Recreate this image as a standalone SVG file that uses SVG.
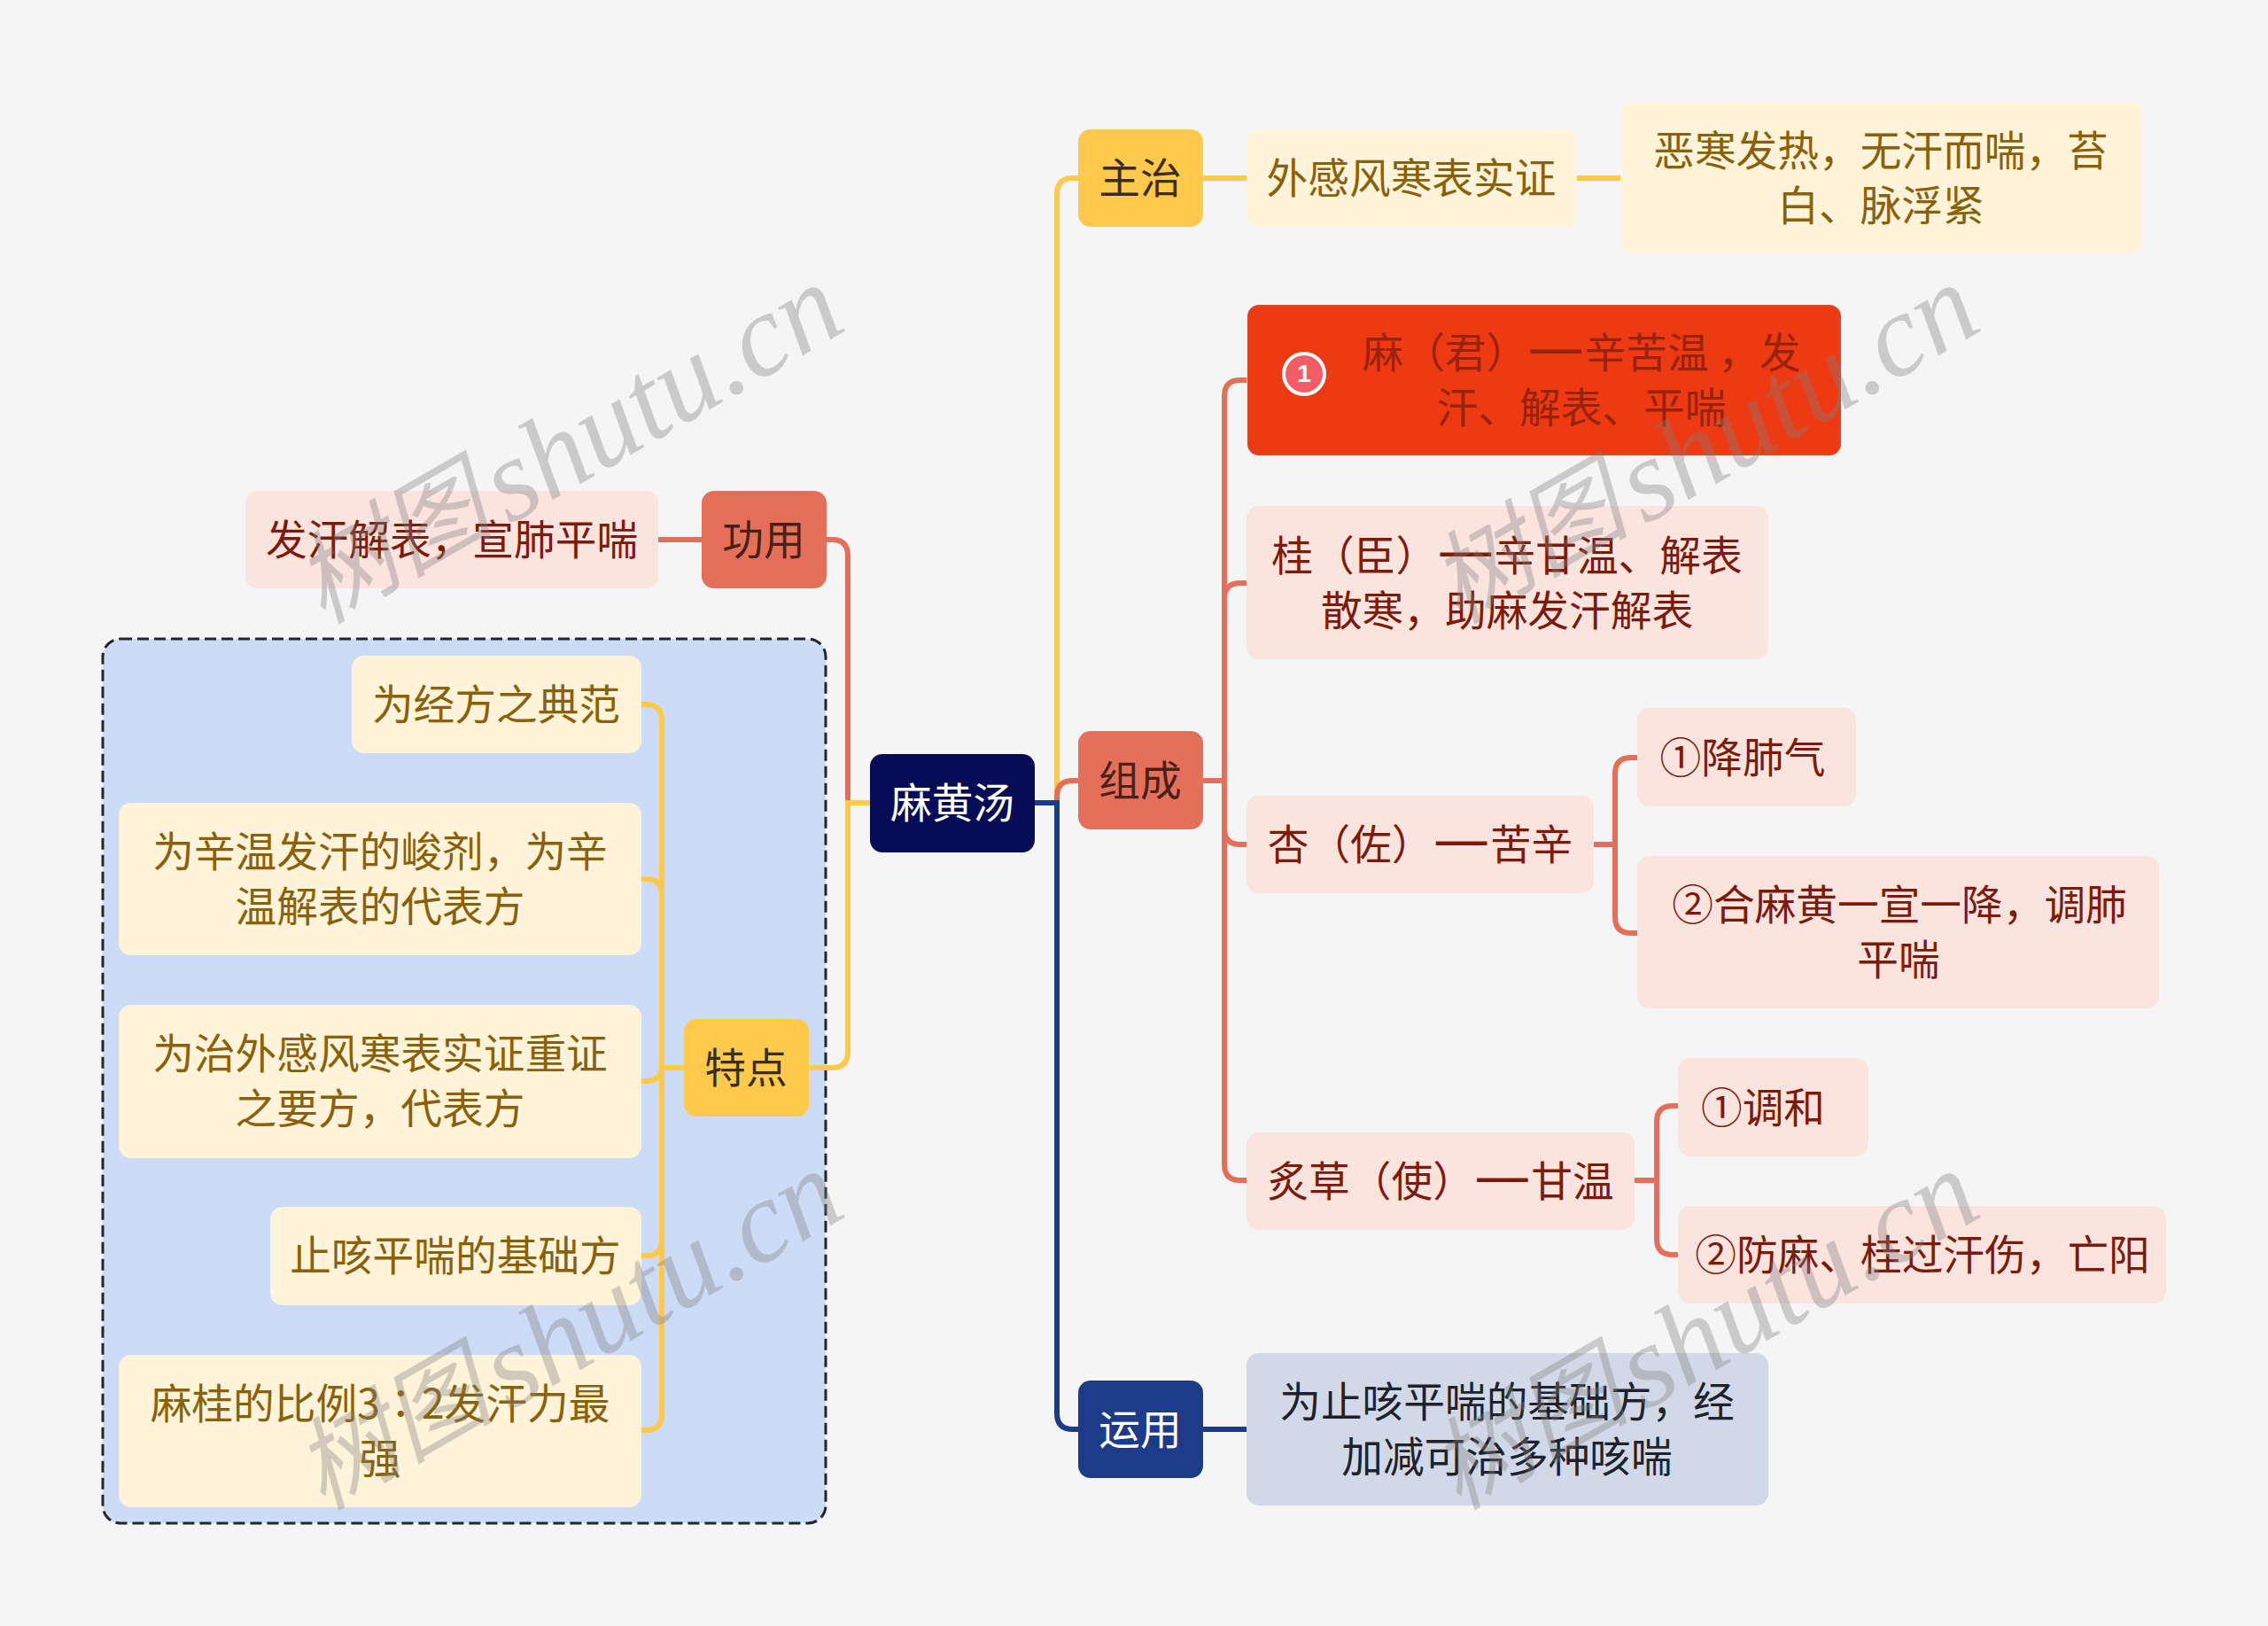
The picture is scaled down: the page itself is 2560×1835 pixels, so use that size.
<svg xmlns="http://www.w3.org/2000/svg" width="2560" height="1835" viewBox="0 0 2560 1835">
<style>
text{font-family:"Noto Sans CJK SC","Noto Sans",sans-serif;font-size:46.7px;text-anchor:middle;dominant-baseline:central}
.d{font-size:72px;baseline-shift:9px}
.c{fill:none;stroke-width:6;stroke-linecap:butt}
.cy{stroke:#ffc94b}.cr{stroke:#e4705a}.cb{stroke:#1c3b88}
.y1{fill:#ffc94b}.y2{fill:#fff3d9}.r1{fill:#e4705a}.r2{fill:#fbe3de}.b1{fill:#1c3b88}.b2{fill:#d1d8e7}
.ty1{fill:#3a2e14}.ty2{fill:#8a6108}.tr1{fill:#4a2118}.tr2{fill:#7d1a0c}.tb1{fill:#fff}.tb2{fill:#1e222b}
.wm{font-family:"Liberation Serif","Noto Sans CJK SC",serif;font-style:italic;font-size:132px;fill:#808080;fill-opacity:.36;text-anchor:start;dominant-baseline:auto}
.wc{font-size:113px;font-family:"Noto Sans CJK SC",sans-serif}
</style>
<rect width="2560" height="1835" fill="#f5f5f5"/>
<g id="boundary">
<rect x="116" y="721" width="816" height="998" rx="20" fill="#cddcf6" stroke="#22262e" stroke-width="3" stroke-dasharray="13 6"/>
</g>
<g id="connectors">
<path class="c cy" d="M1168 906H1193V219Q1193 201 1211 201H1217"/>
<path class="c cr" d="M1168 906H1193V899Q1193 881 1211 881H1217"/>
<path class="c cb" d="M1168 906H1193V1595Q1193 1613 1211 1613H1217"/>
<path class="c cr" d="M982 906H957V627Q957 609 939 609H933"/>
<path class="c cy" d="M982 906H957V1187Q957 1205 939 1205H914"/>
<path class="c cy" d="M1358 201H1407M1780 201H1829"/>
<path class="c cr" d="M743 609H792"/>
<path class="c cb" d="M1358 1613H1407"/>
<path class="c cr" d="M1358 881H1382M1407 429H1400Q1382 429 1382 447V935Q1382 953 1400 953H1407M1407 658H1400Q1382 658 1382 676V1314Q1382 1332 1400 1332H1407"/>
<path class="c cr" d="M1799 953H1823M1848 855H1841Q1823 855 1823 873V1035Q1823 1053 1841 1053H1848"/>
<path class="c cr" d="M1845 1332H1870M1894 1248H1888Q1870 1248 1870 1266V1398Q1870 1416 1888 1416H1894"/>
<path class="c cy" d="M772 1205H747M724 795H729Q747 795 747 813V1596Q747 1614 729 1614H724M724 992H729Q747 992 747 1010M724 1220H729Q747 1220 747 1202M724 1417H729Q747 1417 747 1399"/>
</g>
<g id="root"><rect x="982" y="851" width="186" height="111" rx="14" fill="#060c56"/><text x="1075" y="902" class="tb1">麻黄汤</text></g>
<g id="n-zhuzhi"><rect x="1217" y="146" width="141" height="110" rx="14" class="y1"/><text x="1287" y="197" class="ty1">主治</text></g>
<g id="n-waigan"><rect x="1407" y="146" width="373" height="110" rx="14" class="y2"/><text x="1593" y="197" class="ty2">外感风寒表实证</text></g>
<g id="n-ehan"><rect x="1829" y="115" width="589" height="171" rx="14" class="y2"/><text x="2123" y="166" class="ty2">恶寒发热，无汗而喘，苔</text><text x="2123" y="228" class="ty2">白、脉浮紧</text></g>
<g id="n-zucheng"><rect x="1217" y="825" width="141" height="111" rx="14" class="r1"/><text x="1287" y="877" class="tr1">组成</text></g>
<g id="n-ma"><rect x="1409" y="345" width="668" height="168" rx="12" fill="#ee3a12" stroke="#d8482a" stroke-width="2"/><circle cx="1472" cy="422" r="23" fill="#f25c66" stroke="#fff" stroke-width="4"/><text x="1472" y="421" style="font-size:28px;font-weight:700;font-family:'Liberation Sans',sans-serif" fill="#fff">1</text><text x="1785" y="394" fill="#96230a">麻（君）<tspan class="d">—</tspan>辛苦温 ，发</text><text x="1785" y="456" fill="#96230a">汗、解表、平喘</text></g>
<g id="n-gui"><rect x="1407" y="571" width="589" height="173" rx="14" class="r2"/><text x="1701" y="623" class="tr2">桂（臣）<tspan class="d">—</tspan>辛甘温、解表</text><text x="1701" y="685" class="tr2">散寒，助麻发汗解表</text></g>
<g id="n-xing"><rect x="1407" y="898" width="392" height="110" rx="14" class="r2"/><text x="1603" y="949" class="tr2">杏（佐）<tspan class="d">—</tspan>苦辛</text></g>
<g id="n-xing1"><rect x="1848" y="799" width="247" height="111" rx="14" class="r2"/><text x="1967" y="851" class="tr2">①降肺气</text></g>
<g id="n-xing2"><rect x="1848" y="966" width="589" height="172" rx="14" class="r2"/><text x="2144" y="1017" class="tr2">②合麻黄一宣一降，调肺</text><text x="2143" y="1079" class="tr2">平喘</text></g>
<g id="n-zhi"><rect x="1407" y="1278" width="438" height="110" rx="14" class="r2"/><text x="1626" y="1329" class="tr2">炙草（使）<tspan class="d">—</tspan>甘温</text></g>
<g id="n-zhi1"><rect x="1894" y="1194" width="215" height="111" rx="14" class="r2"/><text x="1990" y="1246" class="tr2">①调和</text></g>
<g id="n-zhi2"><rect x="1894" y="1361" width="551" height="110" rx="14" class="r2"/><text x="2170" y="1412" class="tr2">②防麻、桂过汗伤，亡阳</text></g>
<g id="n-yunyong"><rect x="1217" y="1558" width="141" height="110" rx="14" class="b1"/><text x="1287" y="1609" class="tb1">运用</text></g>
<g id="n-yun1"><rect x="1407" y="1527" width="589" height="172" rx="14" class="b2"/><text x="1701" y="1578" class="tb2">为止咳平喘的基础方，经</text><text x="1701" y="1640" class="tb2">加减可治多种咳喘</text></g>
<g id="n-gongyong"><rect x="792" y="554" width="141" height="110" rx="14" class="r1"/><text x="862" y="605" class="tr1">功用</text></g>
<g id="n-fahan"><rect x="277" y="554" width="466" height="110" rx="14" class="r2"/><text x="510" y="605" class="tr2">发汗解表，宣肺平喘</text></g>
<g id="n-tedian"><rect x="772" y="1150" width="141" height="110" rx="14" class="y1"/><text x="842" y="1201" class="ty1">特点</text></g>
<g id="n-t1"><rect x="397" y="740" width="327" height="110" rx="14" class="y2"/><text x="560" y="791" class="ty2">为经方之典范</text></g>
<g id="n-t2"><rect x="134" y="906" width="590" height="172" rx="14" class="y2"/><text x="429" y="957" class="ty2">为辛温发汗的峻剂，为辛</text><text x="429" y="1019" class="ty2">温解表的代表方</text></g>
<g id="n-t3"><rect x="134" y="1134" width="590" height="173" rx="14" class="y2"/><text x="429" y="1185" class="ty2">为治外感风寒表实证重证</text><text x="429" y="1247" class="ty2">之要方，代表方</text></g>
<g id="n-t4"><rect x="305" y="1362" width="419" height="111" rx="14" class="y2"/><text x="514" y="1413" class="ty2">止咳平喘的基础方</text></g>
<g id="n-t5"><rect x="134" y="1529" width="590" height="172" rx="14" class="y2"/><text x="429" y="1580" class="ty2">麻桂的比例3<tspan style="font-family:'Noto Sans CJK TC',sans-serif">：</tspan>2发汗力最</text><text x="429" y="1642" class="ty2">强</text></g>
<g id="watermarks">
<text class="wm" transform="translate(364 705) rotate(-30)"><tspan class="wc">树图</tspan><tspan dx="-20" dy="8"> shutu.cn</tspan></text>
<text class="wm" transform="translate(1646 705) rotate(-30)"><tspan class="wc">树图</tspan><tspan dx="-20" dy="8"> shutu.cn</tspan></text>
<text class="wm" transform="translate(364 1705) rotate(-30)"><tspan class="wc">树图</tspan><tspan dx="-20" dy="8"> shutu.cn</tspan></text>
<text class="wm" transform="translate(1646 1705) rotate(-30)"><tspan class="wc">树图</tspan><tspan dx="-20" dy="8"> shutu.cn</tspan></text>
</g>
</svg>
